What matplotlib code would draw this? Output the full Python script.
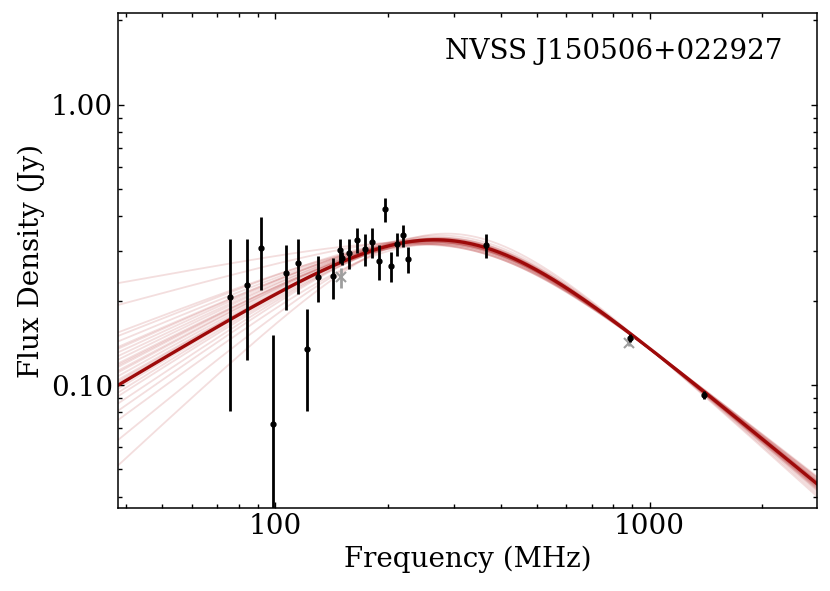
import numpy as np
import matplotlib.pyplot as plt
from matplotlib.ticker import FormatStrFormatter, NullFormatter, LogLocator

plt.rcParams['font.family'] = 'DejaVu Serif'
plt.rcParams['mathtext.fontset'] = 'dejavuserif'

# measured flux densities (MHz, Jy)
freq = [76, 84, 92, 99, 107, 115, 122, 130, 143, 149, 151, 158, 166, 174,
        181, 189, 197, 204, 212, 220, 227, 365, 888, 1400]
flux = [0.206, 0.228, 0.309, 0.0728, 0.251, 0.272, 0.134, 0.243, 0.244, 0.303,
        0.284, 0.296, 0.330, 0.306, 0.324, 0.277, 0.424, 0.266, 0.318, 0.342,
        0.281, 0.316, 0.147, 0.0924]
flux_err = [0.125, 0.105, 0.090, 0.078, 0.066, 0.061, 0.053, 0.045, 0.041, 0.030,
            0.015, 0.036, 0.034, 0.041, 0.040, 0.040, 0.042, 0.033, 0.030, 0.031,
            0.031, 0.031, 0.005, 0.003]

# points left out of the fit
excl_freq = [150, 880]
excl_flux = [0.242, 0.1407]
excl_err = [0.020, 0.003]

# curved power law: asymptote pivots and best-fit slopes
pivot_lo, norm_lo = 170.0, 0.331
pivot_hi, norm_hi = 1000.0, 0.138
best_fit = (0.80, -1.10, 0.67)

# posterior draws (thick slope, thin slope, smoothness)
draw_thick = [0.24, 0.36, 0.51, 0.53, 0.56, 0.59, 0.62, 0.64, 0.66, 0.68,
              0.70, 0.73, 0.75, 0.78, 0.80, 0.82, 0.86, 0.90, 0.99, 1.10,
              1.24, 0.72, 0.77, 0.84, 0.69, 0.60, 0.94, 0.79]
draw_thin = [-1.08, -1.12, -1.05, -1.14, -1.10, -1.07, -1.16, -1.09, -1.12, -1.04,
             -1.11, -1.13, -1.08, -1.10, -1.06, -1.18, -1.09, -1.12, -1.07, -1.14,
             -1.20, -1.10, -1.05, -1.13, -1.09, -1.11, -1.15, -1.08]
draw_width = [0.46, 0.51, 0.57, 0.58, 0.59, 0.60, 0.61, 0.62, 0.63, 0.64,
              0.64, 0.65, 0.66, 0.67, 0.68, 0.69, 0.71, 0.72, 0.76, 0.80,
              0.85, 0.65, 0.67, 0.70, 0.64, 0.60, 0.74, 0.68]

source_name = 'NVSS J150506+022927'


def curved_pl(nu, a_lo, a_hi, w):
    # break frequency where the two power-law asymptotes cross
    log_nb = (np.log10(norm_hi) - np.log10(norm_lo)
              + a_lo * np.log10(pivot_lo) - a_hi * np.log10(pivot_hi)) / (a_lo - a_hi)
    nb = 10 ** log_nb
    sb = norm_lo * (nb / pivot_lo) ** a_lo
    x = nu / nb
    return sb * x ** a_lo * (1 + x ** ((a_lo - a_hi) / w)) ** (-w)


xmin, xmax = min(freq) / 2, max(freq) * 2
ymin, ymax = min(flux) * 0.5, max(flux) * 5
nu = np.logspace(np.log10(xmin), np.log10(xmax), 400)

fig = plt.figure(figsize=(8.3, 5.91), dpi=100)
ax = fig.add_axes([0.1418, 0.1404, 0.8425, 0.8371])

for a_lo, a_hi, w in zip(draw_thick, draw_thin, draw_width):
    ax.plot(nu, curved_pl(nu, a_lo, a_hi, w), color='#b22222', alpha=0.15, lw=1.3, zorder=1)
ax.plot(nu, curved_pl(nu, *best_fit), color='#9e0a0a', lw=2.4, zorder=2)

ax.errorbar(excl_freq, excl_flux, yerr=excl_err, fmt='x', color='0.62', ms=7, mew=1.5,
            elinewidth=2, capsize=0, zorder=3)
ax.errorbar(freq, flux, yerr=flux_err, fmt='o', color='k', ms=3.5,
            elinewidth=2, capsize=0, zorder=4)

ax.set_xscale('log')
ax.set_yscale('log')
ax.set_xlim(xmin, xmax)
ax.set_ylim(ymin, ymax)

ax.xaxis.set_major_formatter(FormatStrFormatter('%d'))
ax.xaxis.set_minor_formatter(NullFormatter())
ax.yaxis.set_major_locator(LogLocator(base=10))
ax.yaxis.set_major_formatter(FormatStrFormatter('%.2f'))
ax.yaxis.set_minor_formatter(NullFormatter())
ax.tick_params(which='both', direction='in', top=True, right=True, width=1, labelsize=20)
ax.tick_params(which='major', length=4)
ax.tick_params(which='minor', length=3)
for sp in ax.spines.values():
    sp.set_linewidth(1.1)

ax.set_xlabel('Frequency (MHz)', fontsize=20)
ax.set_ylabel('Flux Density (Jy)', fontsize=20)
ax.text(0.95, 0.95, source_name, transform=ax.transAxes, ha='right', va='top', fontsize=20)

fig.savefig('out.png', dpi=100)
